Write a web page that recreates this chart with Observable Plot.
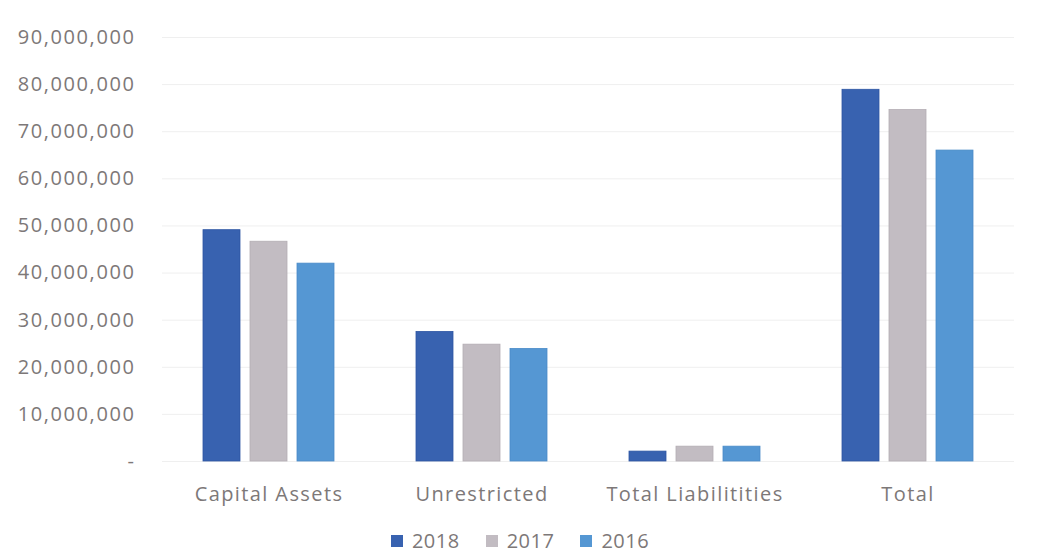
<!DOCTYPE html>
<html><head><meta charset="utf-8">
<script src="https://cdn.jsdelivr.net/npm/d3@7"></script>
<script src="https://cdn.jsdelivr.net/npm/@observablehq/plot@0.6"></script>
<style>
body{margin:0;background:#fff;font-family:"Open Sans",sans-serif;overflow:hidden}
#legend{display:flex;justify-content:center;gap:26px;margin-top:10px;font-size:20px;color:#7d7878;line-height:22px;letter-spacing:0.5px}
#legend .item{display:flex;align-items:center}
.sw{display:inline-block;width:12px;height:12px;margin-right:9px;}
svg text{letter-spacing:1.4px}
g[aria-label="y-axis tick label"] text{letter-spacing:1.6px}
</style></head><body>
<div id="chart"></div><div id="legend"></div>
<script>
const categories = ["Capital Assets", "Unrestricted", "Total Liabilitities", "Total"];
const years = ["2018", "2017", "2016"];
const values2018 = [49100000, 27500000, 2100000, 78900000];
const values2017 = [46650000, 24800000, 3150000, 74600000];
const values2016 = [42000000, 23900000, 3150000, 66000000];
const yTicks = [0, 10000000, 20000000, 30000000, 40000000, 50000000, 60000000, 70000000, 80000000, 90000000];
const colors = ["#3862b0", "#c2bcc2", "#5597d3"];
const strokes = ["#2d55a3", "#b3adb3", "#4a8bc8"];

const series = [values2018, values2017, values2016];
const data = categories.flatMap((c, i) => years.map((y, j) => ({category: c, year: y, value: series[j][i]})));

const plot = Plot.plot({
  width: 1040, height: 520,
  marginLeft: 161, marginRight: 25, marginTop: 37, marginBottom: 59,
  style: {fontFamily: "Open Sans", fontSize: "20px", color: "#7d7878", background: "#fff"},
  fx: {domain: categories, padding: 0, label: null, axis: null},
  x: {domain: years, paddingInner: 0.21, paddingOuter: 0.87, axis: null},
  y: {domain: [0, 90000000]},
  color: {domain: years, range: colors},
  marks: [
    Plot.gridY(yTicks, {stroke: "#efefef", strokeOpacity: 1}),
    Plot.barY(data, {fx: "category", x: "year", y: "value", fill: "year",
      stroke: d => strokes[years.indexOf(d.year)], strokeWidth: 0.8}),
    Plot.axisY(yTicks, {tickSize: 0, tickPadding: 27, label: null, fontSize: 20,
      tickFormat: d => d === 0 ? "-" : d3.format(",")(d)}),
    Plot.axisFx({anchor: "bottom", tickSize: 0, tickPadding: 25, label: null, fontSize: 20})
  ]
});
document.getElementById("chart").appendChild(plot);

const legend = document.getElementById("legend");
years.forEach((y, j) => {
  const item = document.createElement("div");
  item.className = "item";
  const sw = document.createElement("span");
  sw.className = "sw";
  sw.style.background = colors[j];
  item.appendChild(sw);
  item.appendChild(document.createTextNode(y));
  legend.appendChild(item);
});
</script>
</body></html>
